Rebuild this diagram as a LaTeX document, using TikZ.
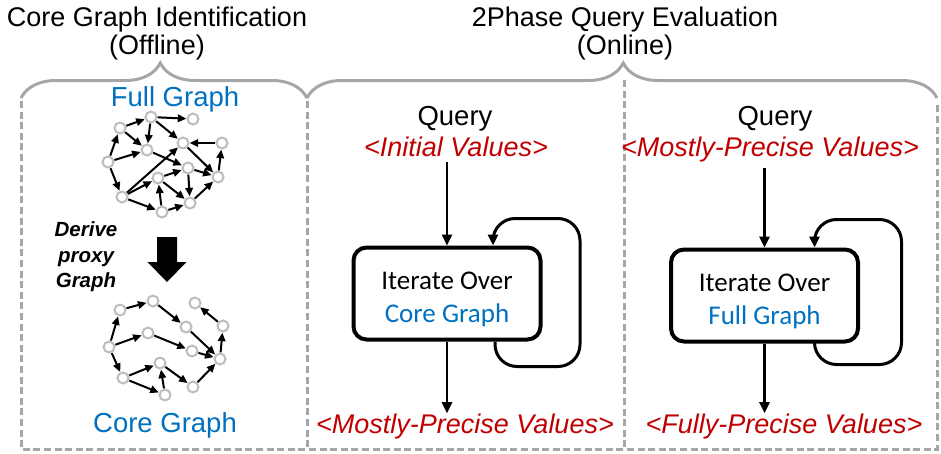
\documentclass[tikz,border=0pt]{standalone}
\usepackage{fontspec}
\setmainfont{Liberation Sans}
\newfontfamily\boxfont{Carlito}
\usetikzlibrary{arrows.meta,decorations.pathreplacing,calc}
\definecolor{tblue}{HTML}{0070C0}
\definecolor{tred}{HTML}{C00000}
\definecolor{framegray}{HTML}{A6A6A6}
\definecolor{vgray}{HTML}{BDBDBD}
\begin{document}
\begin{tikzpicture}[x=1pt,y=-1pt,
  title/.style={font=\fontsize{27}{28}\selectfont, align=center, inner sep=0pt},
  lbl/.style={font=\fontsize{27.5}{30}\selectfont, inner sep=0pt, anchor=base},
  bluelbl/.style={lbl, text=tblue},
  redlbl/.style={font=\fontsize{27}{30}\selectfont\itshape, text=tred, inner sep=0pt, anchor=base},
  vtx/.style={circle, draw=vgray, line width=2pt, fill=white, minimum size=11pt, inner sep=0pt},
  gedge/.style={line width=2pt, -{Triangle[length=8.5pt,width=7.5pt]}, shorten >=0.2pt, shorten <=0.2pt},
  flow/.style={line width=2.5pt, -{Triangle[length=11pt,width=10pt]}},
  loopline/.style={line width=3pt, rounded corners=22pt, -{Triangle[length=11pt,width=10pt]}},
  procbox/.style={draw, line width=4pt, rounded corners=13pt, minimum width=187pt, minimum height=92pt, inner sep=0pt},
  boxtxt/.style={font=\fontsize{27}{33}\selectfont\boxfont, align=center, inner sep=0pt},
  frameline/.style={draw=framegray, line width=3pt, dash pattern=on 7pt off 3.6pt},
  bracedraw/.style={draw=framegray, line width=3pt, decorate}
]
\useasboundingbox (0,0) rectangle (941,453);

% dashed panel frames
\draw[frameline] (21,101) -- (21,449) -- (937,449) -- (937,103);
\draw[frameline] (307,101) -- (307,449);
\draw[frameline] (624,80) -- (624,449);

% braces over the two phases
\draw[bracedraw, decoration={brace, amplitude=35pt, aspect=0.487}] (21,98) -- (307,98);
\draw[bracedraw, decoration={brace, amplitude=35pt, aspect=0.502}] (307,98) -- (937,98);

% titles
\node[title, anchor=north] (offtitle) at (157,7) {Core Graph Identification\\(Offline)};
\node[title, anchor=north] (ontitle) at (625,7) {2Phase Query Evaluation\\(Online)};

% ---------------- offline panel ----------------
\node[bluelbl] (fulllbl) at (175,106) {Full Graph};
\node[bluelbl] (corelbl) at (165,432) {Core Graph};

% full graph
\foreach \n/\x/\y in {fA/120/128, fB/151/117, fC/193/119, fD/222/143, fE/183/143,
    fF/147/150, fG/108/162, fH/188/168, fI/218/177, fJ/158/178, fK/122/197,
    fL/190/203, fM/162/212}
  \node[vtx] (\n) at (\x,\y) {};
\foreach \a/\b in {fA/fB, fA/fF, fG/fA, fG/fF, fB/fC, fB/fF, fB/fE, fD/fE, fI/fD,
    fE/fI, fF/fH, fH/fI, fH/fL, fK/fE, fG/fK, fK/fJ, fJ/fH, fJ/fL, fM/fJ, fK/fM,
    fM/fL, fL/fI}
  \draw[gedge] (\a) -- (\b);

% core graph
\foreach \n/\x/\y in {cA/120/310, cB/153/301, cC/195/303, cD/223/326, cE/186/327,
    cF/148/333, cG/109/347, cH/192/351, cI/220/359, cJ/160/363, cK/123/378,
    cL/193/387, cM/165/395}
  \node[vtx] (\n) at (\x,\y) {};
\foreach \a/\b in {cG/cA, cA/cB, cB/cE, cE/cI, cG/cF, cF/cH, cH/cI, cI/cD, cD/cC,
    cG/cK, cK/cJ, cK/cM, cM/cJ, cJ/cL, cL/cI}
  \draw[gedge] (\a) -- (\b);

% derivation step
\node[font=\fontsize{20.5}{25.5}\selectfont\bfseries\itshape, align=center, inner sep=0pt]
  (derive) at (86,257) {Derive\\proxy\\Graph};
\fill (157,237) -- (177,237) -- (177,262) -- (186.5,262) -- (167,282)
  -- (147.5,262) -- (157,262) -- cycle;

% ---------------- online: first phase ----------------
\node[lbl] (q1) at (455,125) {Query};
\node[redlbl] (init) at (456,156) {<Initial Values>};
\node[procbox] (mbox) at (447,293.5) {};
\node[boxtxt] (mtxt) at (447,299) {Iterate Over\\\textcolor{tblue}{Core Graph}};
\node[redlbl] (mres) at (465,433) {<Mostly-Precise Values>};

\draw[flow, shorten <=6pt] (init.south -| mbox.north) -- (mbox.north);
\draw[flow] (mbox.south) -- (mbox.south |- mres.north);
\draw[loopline] ([xshift=48pt]mbox.south) -- ++(0,25) -- ++(85,0) -- ++(0,-148)
  -- ++(-87,0) -- ([xshift=46pt]mbox.north);

% ---------------- online: second phase ----------------
\node[lbl] (q2) at (775,125) {Query};
\node[redlbl] (mostly) at (770,156) {<Mostly-Precise Values>};
\node[procbox] (fbox) at (764.5,295.5) {};
\node[boxtxt] (ftxt) at (764.5,301) {Iterate Over\\\textcolor{tblue}{Full Graph}};
\node[redlbl] (fres) at (784,433) {<Fully-Precise Values>};

\draw[flow, shorten <=6pt] (mostly.south -| fbox.north) -- (fbox.north);
\draw[flow] (fbox.south) -- (fbox.south |- fres.north);
\draw[loopline] ([xshift=50pt]fbox.south) -- ++(0,21) -- ++(87,0) -- ++(0,-145)
  -- ++(-87,0) -- ([xshift=50pt]fbox.north);
\end{tikzpicture}
\end{document}
